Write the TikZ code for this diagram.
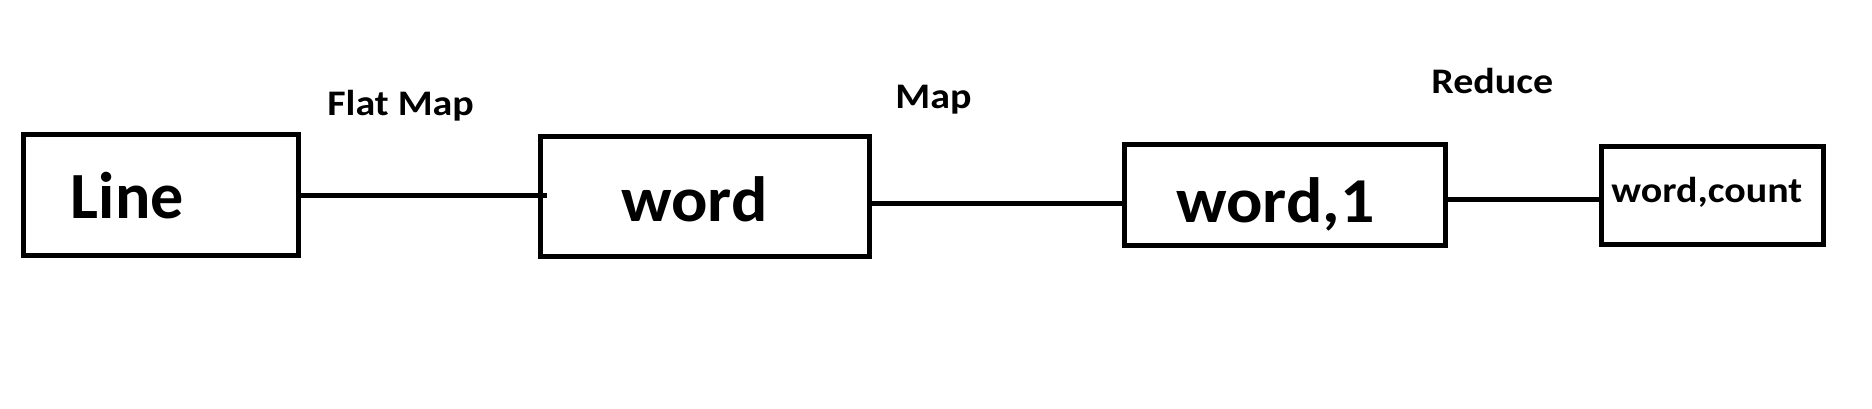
\documentclass[tikz,border=0pt]{standalone}
\usepackage{fontspec}
\setmainfont{Carlito}
\newfontfamily\bigwide{Carlito}[FakeStretch=1.06]
\newfontfamily\smallwide{Carlito}[FakeStretch=1.11]
\begin{document}
\begin{tikzpicture}[x=0.5pt,y=-0.5pt,
  box/.style={draw=black,line width=2.5pt,rectangle,inner sep=0pt,outer sep=0pt},
  link/.style={draw=black,line width=2.5pt},
  big/.style={anchor=base west,inner sep=0pt,font=\bigwide\bfseries\fontsize{32}{38}\selectfont},
  small/.style={anchor=base west,inner sep=0pt,font=\smallwide\bfseries\fontsize{18}{22}\selectfont}]
\useasboundingbox[fill=white] (0,0) rectangle (1872,408);
% boxes
\node[box,minimum width=137.5pt,minimum height=60.25pt] (lb) at (161,194.75) {};
\node[box,minimum width=164.25pt,minimum height=59.75pt] (wb) at (704.75,196.25) {};
\node[box,minimum width=160.75pt,minimum height=50.5pt] (w1b) at (1284.75,194.5) {};
\node[box,minimum width=111pt,minimum height=49pt] (wcb) at (1712,195.5) {};
% texts
\node[big,font=\bfseries\fontsize{33}{38}\selectfont] (tline) at (70.5,218) {Line};
\node[big] (tword) at (621,221) {word};
\node[big] (tword1) at (1176,222) {word,1};
\node[small] (tcount) at (1611,202) {word,count};
\node[small] (tflat) at (327,115) {Flat Map};
\node[small] (tmap) at (895,108) {Map};
\node[small] (treduce) at (1431,93) {Reduce};
% connectors
\coordinate (c1) at (0,195.5);
\coordinate (c1e) at (547,195.5);
\coordinate (c2) at (0,203.5);
\coordinate (c3) at (0,199.5);
\draw[link] (lb.east |- c1) -- (c1e);
\draw[link] (wb.east |- c2) -- (w1b.west |- c2);
\draw[link] (w1b.east |- c3) -- (wcb.west |- c3);
\end{tikzpicture}
\end{document}
